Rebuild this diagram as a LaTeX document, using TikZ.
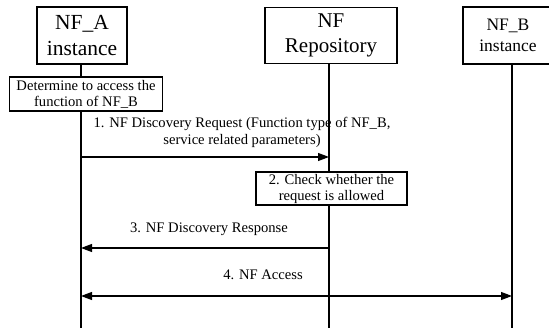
\documentclass[tikz,border=0pt]{standalone}
\usepackage{fontspec}
\setmainfont{Liberation Serif}
\usetikzlibrary{arrows.meta}
\begin{document}
\begin{tikzpicture}[x=1pt,y=-1pt,
  entity/.style={draw,line width=1.1pt,align=center,inner sep=0pt},
  stepbox/.style={draw,line width=1.1pt,align=center,inner sep=0pt,font=\fontsize{14.6}{16}\selectfont},
  lifeline/.style={line width=1.1pt},
  tip/.tip={Triangle[length=11pt,width=8pt]},
  msg/.style={line width=1.1pt,-tip},
  lbl/.style={inner sep=0pt,align=center,font=\fontsize{14.6}{17}\selectfont}]
\useasboundingbox (0,0) rectangle (549,328);
% participants
\node[entity,minimum width=90,minimum height=57,font=\fontsize{21.5}{25.5}\selectfont] (nfa) at (82,35.5) {NF\_A\\instance};
\node[entity,minimum width=132,minimum height=56,font=\fontsize{21}{25}\selectfont] (nrf) at (331,35.5) {NF\\Repository};
\node[entity,minimum width=90,minimum height=57,font=\fontsize{17.5}{21}\selectfont] (nfb) at (508,35.5) {NF\_B\\instance};
% lifeline ends
\coordinate (aend) at (81,328);
\coordinate (rend) at (329,328);
\coordinate (bend) at (512,328);
% local steps
\node[stepbox,minimum width=153,minimum height=34] (det) at (86,94) {Determine to access the\\function of NF\_B};
\node[stepbox,minimum width=151,minimum height=33] (chk) at (331.5,188.5) {2. Check whether the\\request is allowed};
% lifelines
\draw[lifeline] (nfa.south -| aend) -- (det.north -| aend);
\draw[lifeline] (det.south -| aend) -- (aend);
\draw[lifeline] (nrf.south -| rend) -- (chk.north -| rend);
\draw[lifeline] (chk.south -| rend) -- (rend);
\draw[lifeline] (nfb.south -| bend) -- (bend);
% messages
\coordinate (m1) at (0,157);
\coordinate (m3) at (0,248);
\coordinate (m4) at (0,296);
\draw[msg] (m1 -| aend) -- (m1 -| rend);
\draw[msg] (m3 -| rend) -- (m3 -| aend);
\draw[msg,tip-tip] (m4 -| aend) -- (m4 -| bend);
\node[lbl,anchor=base] (l1) at (242,145) {1. NF Discovery Request (Function type of NF\_B,\\service related parameters)};
\node[lbl,anchor=base] (l3) at (209,233) {3. NF Discovery Response};
\node[lbl,anchor=base] (l4) at (263,280) {4. NF Access};
\end{tikzpicture}
\end{document}
